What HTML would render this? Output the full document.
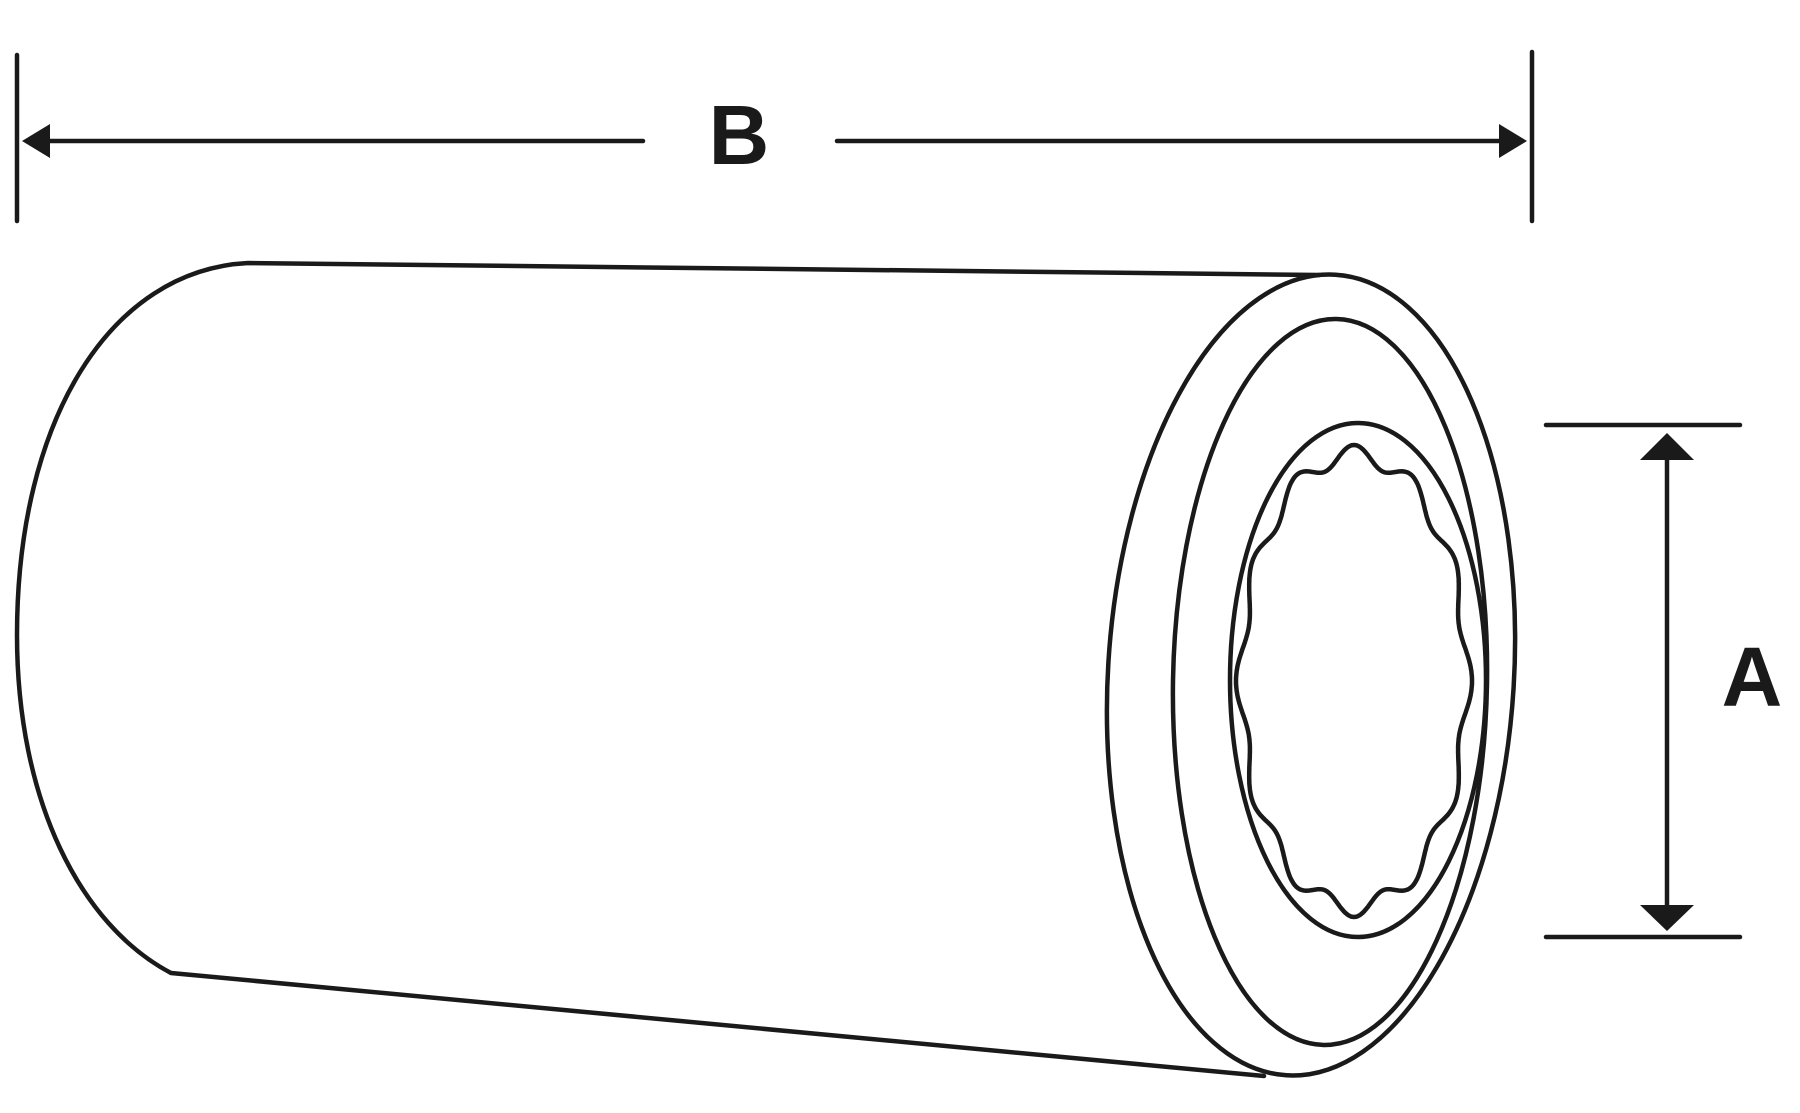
<!DOCTYPE html>
<html><head><style>html,body{margin:0;padding:0;background:#fff}svg{display:block}</style></head>
<body>
<svg width="1800" height="1113" viewBox="0 0 1800 1113" xmlns="http://www.w3.org/2000/svg">
<g fill="none" stroke="#1a1a1a" stroke-width="4.5" stroke-linecap="round" stroke-linejoin="round">
<line x1="17" y1="55" x2="17" y2="221"/>
<line x1="1532" y1="52" x2="1532" y2="221"/>
<line x1="30" y1="141" x2="643" y2="141"/>
<line x1="837" y1="141" x2="1515" y2="141"/>
<path d="M1319,275 L248,263 C110,270 17,420 17,635 C17,800 80,925 171,973 L1264,1076"/>
<ellipse cx="1311" cy="675" rx="203" ry="401" transform="rotate(3.5 1311 675)"/>
<ellipse cx="1330" cy="682" rx="157" ry="363" transform="rotate(1 1330 682)"/>
<ellipse cx="1358" cy="680" rx="128" ry="257"/>
<path id="star"/>
<line x1="1546" y1="425" x2="1740" y2="425"/>
<line x1="1546" y1="937" x2="1740" y2="937"/>
<line x1="1667" y1="445" x2="1667" y2="915"/>
</g>
<g fill="#1a1a1a">
<polygon points="22,141 50,124 50,158"/>
<polygon points="1527,141 1499,124 1499,158"/>
<polygon points="1667,433 1640,460 1694,460"/>
<polygon points="1667,931 1640,905 1694,905"/>
</g>
<text x="739" y="164" font-family="Liberation Sans, sans-serif" font-weight="bold" font-size="84" text-anchor="middle" fill="#1a1a1a">B</text>
<text x="1752" y="706" font-family="Liberation Sans, sans-serif" font-weight="bold" font-size="84" text-anchor="middle" fill="#1a1a1a">A</text>
</svg>
<script>
(function(){
var cx=1354,cy=681,rx=118,ry=236,n=12,pts=[];
for(var i=0;i<=720;i++){
 var t=i*Math.PI/360;
 var k=1-0.08*(0.5-0.5*Math.cos(n*t));
 pts.push((cx+rx*k*Math.cos(t)).toFixed(1)+","+(cy+ry*k*Math.sin(t)).toFixed(1));
}
document.getElementById('star').setAttribute('d','M'+pts.join(' L')+'Z');
})();
</script>
</body></html>
